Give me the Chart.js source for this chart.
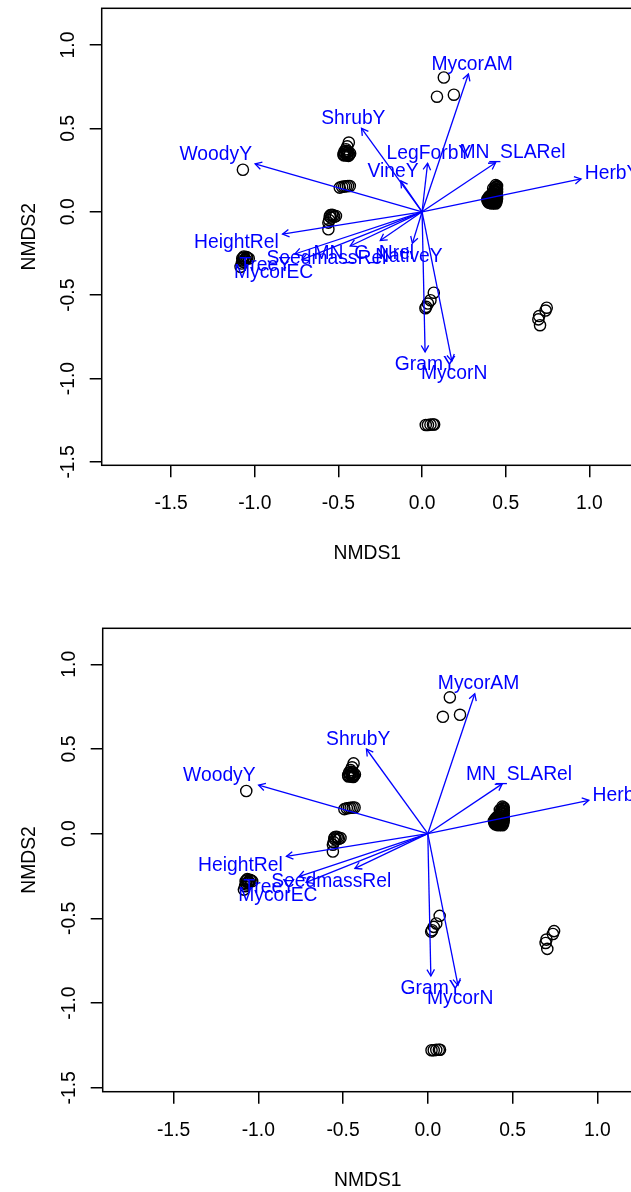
<!DOCTYPE html>
<html><head><meta charset="utf-8">
<script src="https://cdn.jsdelivr.net/npm/chart.js@4.4.1/dist/chart.umd.min.js"></script>
<style>
html,body{margin:0;padding:0;background:#fff;overflow:hidden;width:631px;height:1192px;position:relative;}
canvas{position:absolute;left:0;}
#c1{top:0}
#c2{top:600px}
</style></head><body>
<canvas id="c1" width="640" height="600"></canvas>
<canvas id="c2" width="640" height="620"></canvas>
<script>
// ---- tick labels ----
const xTicks = [-1.5, -1.0, -0.5, 0.0, 0.5, 1.0];
const xTickLabels = ['-1.5', '-1.0', '-0.5', '0.0', '0.5', '1.0'];
const yTicks = [-1.5, -1.0, -0.5, 0.0, 0.5, 1.0];
const yTickLabels = ['-1.5', '-1.0', '-0.5', '0.0', '0.5', '1.0'];
const xTitle = 'NMDS1';
const yTitle = 'NMDS2';

// ---- site scores (NMDS1, NMDS2) ----
const siteX = [
  -1.071,
  0.130, 0.089, 0.190,
  -0.438, -0.447, -0.455, -0.470, -0.460, -0.445, -0.430, -0.465, -0.450, -0.440,
  -0.452, -0.458, -0.442, -0.468, -0.435, -0.448,
  -0.492, -0.478, -0.466, -0.455, -0.443, -0.432,
  -0.548, -0.530, -0.515, -0.545, -0.555, -0.560, -0.560, -0.538, -0.552, -0.525,
  -1.065, -1.050, -1.036, -1.075, -1.060, -1.070, -1.085, -1.078, -1.068, -1.055, -1.045, -1.072,
  0.070, 0.050, 0.035, 0.025, 0.020,
  0.745, 0.738, 0.700, 0.695, 0.705,
  0.022, 0.035, 0.050, 0.065, 0.072,
  0.440, 0.445, 0.435, 0.445, 0.430, 0.440, 0.425, 0.445, 0.410, 0.430, 0.400, 0.420, 0.440,
  0.395, 0.410, 0.430, 0.445, 0.400, 0.420, 0.405, 0.435, 0.415, 0.390, 0.425, 0.438,
  0.448, 0.442, 0.448, 0.438, 0.448, 0.432, 0.420, 0.448, 0.435, 0.412, 0.425, 0.402, 0.448,
  0.438, 0.425, 0.392, 0.410, 0.445, 0.398, 0.428, 0.440, 0.418, 0.432, 0.442, 0.408
];
const siteY = [
  0.252,
  0.805, 0.690, 0.702,
  0.415, 0.392, 0.375, 0.345, 0.340, 0.345, 0.350, 0.360, 0.355, 0.335,
  0.365, 0.350, 0.360, 0.338, 0.342, 0.338,
  0.145, 0.150, 0.152, 0.153, 0.155, 0.155,
  -0.020, -0.022, -0.025, -0.035, -0.050, -0.065, -0.105, -0.018, -0.028, -0.030,
  -0.268, -0.272, -0.280, -0.280, -0.290, -0.300, -0.330, -0.310, -0.275, -0.285, -0.275, -0.292,
  -0.485, -0.530, -0.550, -0.570, -0.578,
  -0.575, -0.592, -0.625, -0.645, -0.680,
  -1.278, -1.278, -1.276, -1.275, -1.275,
  0.160, 0.150, 0.140, 0.130, 0.125, 0.115, 0.110, 0.105, 0.100, 0.095, 0.090, 0.085, 0.085,
  0.080, 0.075, 0.070, 0.070, 0.065, 0.060, 0.055, 0.055, 0.050, 0.075, 0.140, 0.100,
  0.155, 0.145, 0.135, 0.125, 0.118, 0.108, 0.100, 0.092, 0.088, 0.088, 0.078, 0.078, 0.078,
  0.062, 0.065, 0.065, 0.062, 0.060, 0.055, 0.052, 0.050, 0.070, 0.118, 0.135, 0.095
];

// ---- fitted vectors (arrow tips) ----
const vecNames = ['MycorAM', 'ShrubY', 'WoodyY', 'LegForbY', 'VineY', 'MN_SLARel', 'HerbY',
  'HeightRel', 'SeedmassRel', 'MN_C_Nrel', 'NativeY', 'TreeY', 'MycorEC', 'GramY', 'MycorN'];
const vecX = [0.277, -0.362, -0.998, 0.033, -0.127, 0.439, 0.950,
  -0.834, -0.430, -0.250, -0.058, -0.761, -0.718, 0.018, 0.178];
const vecY = [0.826, 0.500, 0.287, 0.291, 0.185, 0.294, 0.197,
  -0.134, -0.205, -0.172, -0.189, -0.253, -0.287, -0.840, -0.895];

// variables shown in each panel
const panel1Vars = ['MycorAM', 'ShrubY', 'WoodyY', 'LegForbY', 'VineY', 'MN_SLARel', 'HerbY',
  'HeightRel', 'SeedmassRel', 'MN_C_Nrel', 'NativeY', 'TreeY', 'MycorEC', 'GramY', 'MycorN'];
const panel2Vars = ['MycorAM', 'ShrubY', 'WoodyY', 'MN_SLARel', 'HerbY',
  'HeightRel', 'SeedmassRel', 'TreeY', 'MycorEC', 'GramY', 'MycorN'];

// ---- styling ----
const FAMILY = '"Liberation Sans", Arial, Helvetica, sans-serif';
const FS = 19.3;
const BLUE = '#0000FF';

const rPlot = {
  id: 'rPlot',
  afterDatasetsDraw(chart, args, opts) {
    const {ctx, chartArea: ca} = chart;
    const xs = chart.scales.x, ys = chart.scales.y;
    const x0 = xs.getPixelForValue(0), y0 = ys.getPixelForValue(0);
    ctx.save();
    ctx.beginPath();
    ctx.rect(ca.left, ca.top, ca.right - ca.left, ca.bottom - ca.top);
    ctx.clip();
    // arrow heads
    ctx.strokeStyle = BLUE;
    ctx.lineWidth = 1.3;
    ctx.lineJoin = 'miter';
    opts.vars.forEach(name => {
      const i = vecNames.indexOf(name);
      const px = xs.getPixelForValue(vecX[i]), py = ys.getPixelForValue(vecY[i]);
      const ang = Math.atan2(py - y0, px - x0);
      const L = 7.5, a = Math.PI / 6;
      ctx.beginPath();
      ctx.moveTo(px - L * Math.cos(ang - a), py - L * Math.sin(ang - a));
      ctx.lineTo(px, py);
      ctx.lineTo(px - L * Math.cos(ang + a), py - L * Math.sin(ang + a));
      ctx.stroke();
    });
    // labels, placed like vegan's ordiArrowTextXY
    ctx.font = FS + 'px ' + FAMILY;
    ctx.fillStyle = BLUE;
    ctx.textAlign = 'center';
    ctx.textBaseline = 'alphabetic';
    const uX = xs.getPixelForValue(1) - x0;
    const uY = y0 - ys.getPixelForValue(1);
    const capPx = 0.716 * FS;
    const hPx = 0.78 * FS;
    opts.vars.forEach(name => {
      const i = vecNames.indexOf(name);
      const X = vecX[i], Y = vecY[i];
      const w = ctx.measureText(name).width / uX;
      const h = hPx / uY;
      const b = Y / X;
      let ox = Math.sign(X) * (w / 2 + h / 4);
      let oy = 0.75 * h * Math.sign(Y);
      const move = oy / b;
      if (isFinite(move) && Math.abs(move) <= Math.abs(ox)) ox = move;
      else oy = b * ox;
      const cx = xs.getPixelForValue(X + ox), cy = ys.getPixelForValue(Y + oy);
      ctx.fillText(name, cx, cy + capPx / 2);
    });
    ctx.restore();
  },
  afterDraw(chart, args, opts) {
    const {ctx, chartArea: ca} = chart;
    const ys = chart.scales.y;
    ctx.save();
    ctx.strokeStyle = '#000';
    ctx.lineWidth = 1.5;
    ctx.strokeRect(ca.left, ca.top, ca.right - ca.left, ca.bottom - ca.top);
    // rotated y tick labels (R style, parallel to axis)
    ctx.font = FS + 'px ' + FAMILY;
    ctx.fillStyle = '#000';
    ctx.textAlign = 'center';
    ctx.textBaseline = 'alphabetic';
    const capPx = 0.716 * FS;
    ys.ticks.forEach((t, k) => {
      const py = ys.getPixelForValue(t.value);
      ctx.save();
      ctx.translate(opts.labelX, py);
      ctx.rotate(-Math.PI / 2);
      ctx.fillText(yTickLabels[yTicks.indexOf(t.value)], 0, capPx / 2);
      ctx.restore();
    });
    ctx.restore();
  }
};

function makeChart(id, p) {
  const sites = siteX.map((v, i) => ({x: v, y: siteY[i]}));
  const datasets = [{
    data: sites,
    order: 2,
    pointStyle: 'circle',
    pointRadius: 5.6,
    pointHoverRadius: 5.6,
    borderWidth: 1.4,
    pointBorderColor: '#000',
    borderColor: '#000',
    backgroundColor: 'rgba(0,0,0,0)',
    pointBackgroundColor: 'rgba(0,0,0,0)'
  }];
  p.vars.forEach(name => {
    const i = vecNames.indexOf(name);
    datasets.push({
      data: [{x: 0, y: 0}, {x: vecX[i], y: vecY[i]}],
      order: 1,
      showLine: true,
      borderColor: BLUE,
      borderWidth: 1.3,
      pointRadius: 0,
      pointHoverRadius: 0,
      fill: false
    });
  });
  const canvas = document.getElementById(id);
  return new Chart(canvas, {
    type: 'scatter',
    data: {datasets},
    options: {
      responsive: false,
      animation: false,
      devicePixelRatio: 1,
      events: [],
      layout: {padding: {top: p.padTop, left: 0, right: 7, bottom: 0}},
      plugins: {legend: {display: false}, tooltip: {enabled: false}, rPlot: {vars: p.vars, labelX: p.labelX}},
      scales: {
        x: {
          type: 'linear', min: p.xmin, max: p.xmax,
          afterBuildTicks: s => { s.ticks = xTicks.map(v => ({value: v})); },
          afterFit: s => { s.height = canvas.height - p.bottom; },
          ticks: {
            autoSkip: false, maxRotation: 0, minRotation: 0,
            padding: 15.1, color: '#000',
            font: {family: FAMILY, size: FS},
            callback: (v, i) => xTickLabels[i]
          },
          grid: {drawOnChartArea: false, drawTicks: true, tickLength: 12, color: '#000', lineWidth: 1.5},
          border: {display: false},
          title: {display: true, text: xTitle, color: '#000', font: {family: FAMILY, size: FS},
            padding: {top: 0, bottom: p.xTitlePad}}
        },
        y: {
          type: 'linear', min: p.ymin, max: p.ymax,
          afterBuildTicks: s => { s.ticks = yTicks.map(v => ({value: v})); },
          afterFit: s => { s.width = p.left; },
          ticks: {display: false},
          grid: {drawOnChartArea: false, drawTicks: true, tickLength: 12, color: '#000', lineWidth: 1.5},
          border: {display: false},
          title: {display: true, text: yTitle, color: '#000', font: {family: FAMILY, size: FS},
            padding: {top: 18.4, bottom: 0}}
        }
      }
    },
    plugins: [rPlot]
  });
}

makeChart('c1', {vars: panel1Vars, padTop: 8.3, left: 101.7, bottom: 465.3,
  xmin: -1.915, xmax: 1.2607, ymin: -1.5198, ymax: 1.22, labelX: 67.3, xTitlePad: 34.4});
makeChart('c2', {vars: panel2Vars, padTop: 28.3, left: 102.7, bottom: 491.7,
  xmin: -1.918, xmax: 1.2106, ymin: -1.523, ymax: 1.2125, labelX: 68.3, xTitlePad: 27.7});
</script></body></html>
